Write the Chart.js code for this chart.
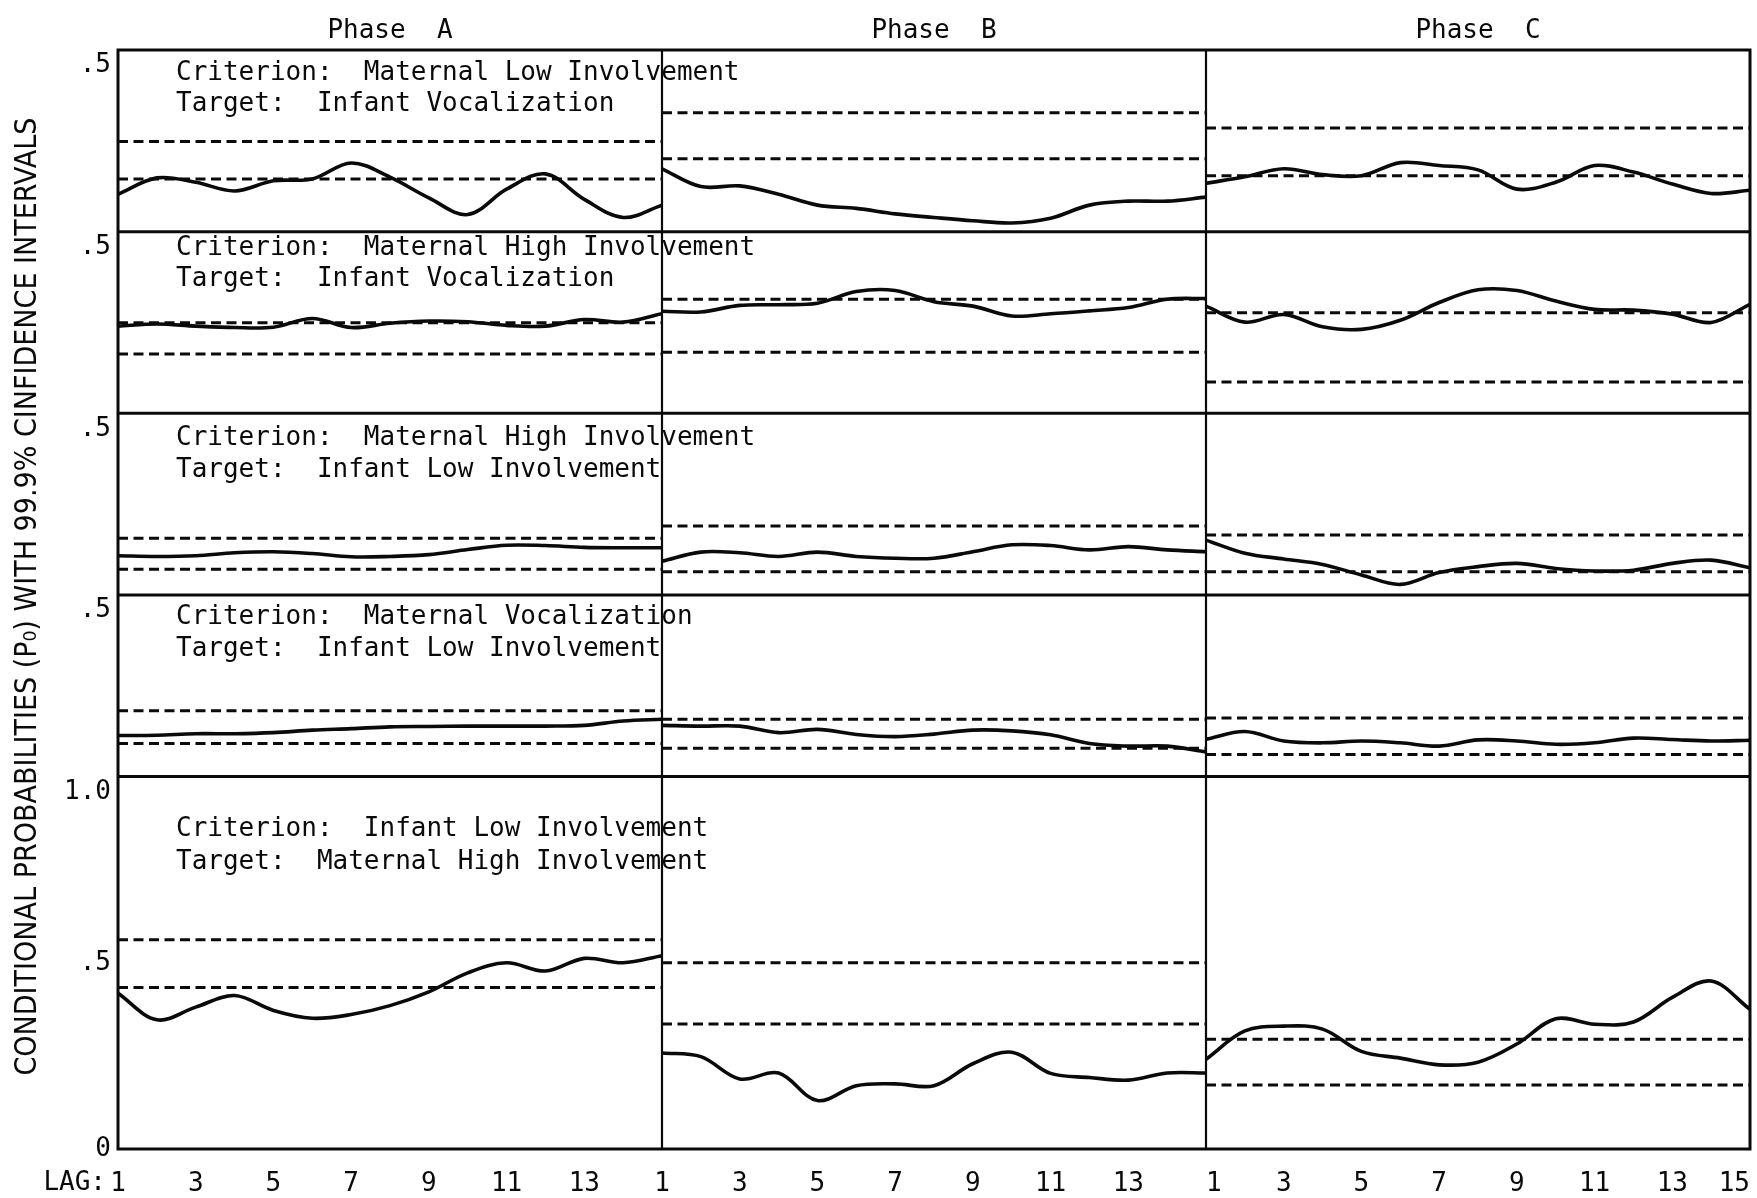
<!DOCTYPE html>
<html>
<head>
<meta charset="utf-8">
<script src="https://cdn.jsdelivr.net/npm/chart.js@4.4.1/dist/chart.umd.min.js"></script>
<style>
html,body{margin:0;padding:0;background:#fff;}
#wrap{width:1757px;height:1198px;position:relative;}
</style>
</head>
<body>
<div id="wrap"><canvas id="c" width="1757" height="1198"></canvas></div>
<script>
// ---------- DATA ----------
const lags = [1,2,3,4,5,6,7,8,9,10,11,12,13,14,15];
const phaseTitles = ['Phase  A','Phase  B','Phase  C'];
const lagTicksAB = [1,3,5,7,9,11,13];
const lagTicksC = [1,3,5,7,9,11,13,15];
const lagAxisLabel = 'LAG:';
const yTicksSmall = [0.5];
const yTicksLarge = [0, 0.5, 1.0];
const yTickValues = [0, 0.5, 1.0];
const yTickTexts = ['0', '.5', '1.0'];
const yTitle = 'CONDITIONAL PROBABILITIES (P\u2080) WITH 99.9% CINFIDENCE INTERVALS';
const criteria = [
  'Criterion:  Maternal Low Involvement',
  'Criterion:  Maternal High Involvement',
  'Criterion:  Maternal High Involvement',
  'Criterion:  Maternal Vocalization',
  'Criterion:  Infant Low Involvement'
];
const targets = [
  'Target:  Infant Vocalization',
  'Target:  Infant Vocalization',
  'Target:  Infant Low Involvement',
  'Target:  Infant Low Involvement',
  'Target:  Maternal High Involvement'
];

// Row 1: Maternal Low Involvement -> Infant Vocalization
const r1A = [0.103,0.148,0.136,0.112,0.140,0.145,0.189,0.150,0.093,0.047,0.117,0.159,0.089,0.039,0.073];
const r1B = [0.173,0.124,0.126,0.103,0.073,0.064,0.049,0.039,0.030,0.024,0.037,0.073,0.084,0.084,0.095];
const r1C = [0.133,0.151,0.173,0.157,0.154,0.190,0.182,0.170,0.117,0.136,0.182,0.164,0.131,0.105,0.114];
const r1Upper = [0.248, 0.327, 0.285];
const r1Lower = [0.145, 0.201, 0.154];

// Row 2: Maternal High Involvement -> Infant Vocalization
const r2A = [0.240,0.246,0.240,0.236,0.237,0.261,0.236,0.248,0.254,0.252,0.242,0.240,0.258,0.251,0.274];
const r2B = [0.281,0.279,0.297,0.299,0.303,0.335,0.338,0.307,0.295,0.268,0.274,0.282,0.291,0.314,0.316];
const r2C = [0.295,0.251,0.272,0.238,0.231,0.256,0.305,0.340,0.338,0.309,0.286,0.284,0.273,0.250,0.300];
const r2Upper = [0.249, 0.314, 0.277];
const r2Lower = [0.163, 0.168, 0.086];

// Row 3: Maternal High Involvement -> Infant Low Involvement
const r3A = [0.108,0.106,0.108,0.116,0.119,0.114,0.105,0.106,0.111,0.125,0.137,0.136,0.131,0.130,0.130];
const r3B = [0.093,0.118,0.116,0.106,0.118,0.106,0.101,0.101,0.119,0.138,0.136,0.124,0.133,0.124,0.119];
const r3C = [0.151,0.115,0.099,0.084,0.055,0.029,0.062,0.078,0.087,0.073,0.066,0.068,0.087,0.096,0.075];
const r3Upper = [0.156, 0.190, 0.165];
const r3Lower = [0.071, 0.064, 0.064];

// Row 4: Maternal Vocalization -> Infant Low Involvement
const r4A = [0.113,0.114,0.118,0.118,0.121,0.128,0.132,0.137,0.138,0.139,0.139,0.139,0.141,0.153,0.158];
const r4B = [0.141,0.139,0.139,0.121,0.130,0.116,0.110,0.117,0.128,0.126,0.115,0.091,0.084,0.084,0.068];
const r4C = [0.103,0.124,0.098,0.093,0.098,0.093,0.084,0.101,0.098,0.089,0.093,0.106,0.102,0.098,0.100];
const r4Upper = [0.181, 0.158, 0.161];
const r4Lower = [0.091, 0.078, 0.061];

// Row 5: Infant Low Involvement -> Maternal High Involvement
const r5A = [0.418,0.347,0.381,0.412,0.372,0.351,0.361,0.385,0.422,0.473,0.500,0.478,0.512,0.500,0.519];
const r5B = [0.258,0.248,0.188,0.204,0.130,0.170,0.175,0.170,0.229,0.260,0.203,0.192,0.185,0.204,0.204];
const r5C = [0.241,0.317,0.330,0.322,0.262,0.244,0.226,0.233,0.282,0.350,0.335,0.341,0.407,0.451,0.375];
const r5Upper = [0.562, 0.500, 0.295];
const r5Lower = [0.434, 0.336, 0.172];

// ---------- BUILD ----------
const rows = [
  {series:[r1A,r1B,r1C], up:r1Upper, lo:r1Lower, max:0.5},
  {series:[r2A,r2B,r2C], up:r2Upper, lo:r2Lower, max:0.5},
  {series:[r3A,r3B,r3C], up:r3Upper, lo:r3Lower, max:0.5},
  {series:[r4A,r4B,r4C], up:r4Upper, lo:r4Lower, max:0.5},
  {series:[r5A,r5B,r5C], up:r5Upper, lo:r5Lower, max:1.0}
];
const rowIds = ['y1','y2','y3','y4','y5'];
const phaseIds = ['xA','xB','xC'];
const INK = '#0a0a0a';
const MONO = '"DejaVu Sans Mono", "Liberation Mono", monospace';

const datasets = [];
rows.forEach((row, ri) => {
  phaseIds.forEach((pid, pi) => {
    const s = row.series[pi];
    datasets.push({
      xAxisID: pid, yAxisID: rowIds[ri],
      data: lags.map((l, i) => ({x: l, y: s[i]})),
      borderColor: INK, borderWidth: 3.6, pointRadius: 0, tension: 0.35, fill: false
    });
    [row.up[pi], row.lo[pi]].forEach(v => {
      datasets.push({
        xAxisID: pid, yAxisID: rowIds[ri],
        data: lags.map(l => ({x: l, y: v})),
        borderColor: INK, borderWidth: 3, borderDash: [10, 5.5], pointRadius: 0, tension: 0, fill: false
      });
    });
  });
});

function yText(v) {
  const i = yTickValues.indexOf(v);
  return i >= 0 ? yTickTexts[i] : String(v);
}

const scales = {};
phaseIds.forEach((pid, pi) => {
  const tv = pi === 2 ? lagTicksC : lagTicksAB;
  scales[pid] = {
    type: 'linear', position: 'bottom', stack: 'lag', stackWeight: 1,
    min: 1, max: 15,
    grid: {display: false, drawTicks: false}, border: {display: false},
    afterBuildTicks: s => { s.ticks = tv.map(v => ({value: v})); },
    ticks: {autoSkip: false, maxRotation: 0, minRotation: 0, padding: 20, color: INK,
      align: pi === 2 ? 'inner' : 'center',
      font: {family: MONO, size: 26}, callback: v => String(v)},
    afterFit: s => { s.height = 49; s.paddingLeft = 0; s.paddingRight = 0; }
  };
});
for (let ri = rows.length - 1; ri >= 0; ri--) {
  const big = rows[ri].max === 1.0;
  const tv = big ? yTicksLarge : yTicksSmall;
  const mx = rows[ri].max;
  scales[rowIds[ri]] = {
    type: 'linear', position: 'left', stack: 'rows', stackWeight: big ? 2.05 : 1,
    min: 0, max: mx,
    grid: {display: false, drawTicks: false}, border: {display: false},
    afterBuildTicks: s => { s.ticks = tv.map(v => ({value: v})); },
    ticks: {autoSkip: false, padding: 7, color: INK, font: {family: MONO, size: 26, lineHeight: 1.2},
      callback: v => (v === mx ? ['', yText(v)] : yText(v))},
    afterFit: s => { s.width = 118; s.paddingTop = 0; s.paddingBottom = 0; }
  };
}

const critOff = [23, 17, 25, 22, 53];
const tgtOff  = [54, 48, 57, 54, 86];

const decor = {
  id: 'decor',
  afterDatasetsDraw(chart) {
    const ctx = chart.ctx;
    const ca = chart.chartArea;
    const xs = phaseIds.map(id => chart.scales[id]);
    const ys = rowIds.map(id => chart.scales[id]);
    ctx.save();
    ctx.fillStyle = INK;
    // panel captions
    ctx.font = '26px ' + MONO;
    ctx.textAlign = 'left';
    ctx.textBaseline = 'middle';
    ys.forEach((sc, i) => {
      ctx.fillText(criteria[i], ca.left + 58, sc.top + critOff[i]);
      ctx.fillText(targets[i], ca.left + 58, sc.top + tgtOff[i]);
    });
    // phase titles
    ctx.textAlign = 'center';
    xs.forEach((sc, i) => {
      ctx.fillText(phaseTitles[i], (sc.left + sc.right) / 2, 31);
    });
    // LAG label
    ctx.textAlign = 'right';
    ctx.fillText(lagAxisLabel, ca.left - 12, ca.bottom + 34);
    // borders
    ctx.strokeStyle = INK;
    ctx.lineWidth = 3;
    ctx.strokeRect(ca.left, ca.top, ca.right - ca.left, ca.bottom - ca.top);
    for (let i = 0; i < ys.length - 1; i++) {
      ctx.beginPath();
      ctx.moveTo(ca.left, ys[i].bottom);
      ctx.lineTo(ca.right, ys[i].bottom);
      ctx.stroke();
    }
    ctx.lineWidth = 2.2;
    for (let i = 0; i < xs.length - 1; i++) {
      ctx.beginPath();
      ctx.moveTo(xs[i].right, ca.top);
      ctx.lineTo(xs[i].right, ca.bottom);
      ctx.stroke();
    }
    // y axis title
    ctx.save();
    ctx.translate(28, (ca.top + ca.bottom) / 2 - 3);
    ctx.rotate(-Math.PI / 2);
    ctx.font = '30px "DejaVu Sans", sans-serif';
    const w = ctx.measureText(yTitle).width;
    ctx.scale(958 / w, 1);
    ctx.textAlign = 'center';
    ctx.textBaseline = 'middle';
    ctx.fillText(yTitle, 0, 0);
    ctx.restore();
    ctx.restore();
  }
};

new Chart(document.getElementById('c'), {
  type: 'line',
  data: {datasets},
  options: {
    responsive: false,
    animation: false,
    devicePixelRatio: 1,
    layout: {padding: {top: 50, right: 7, bottom: 0, left: 0}},
    plugins: {legend: {display: false}, tooltip: {enabled: false}, title: {display: false}},
    scales
  },
  plugins: [decor]
});
</script>
</body>
</html>
